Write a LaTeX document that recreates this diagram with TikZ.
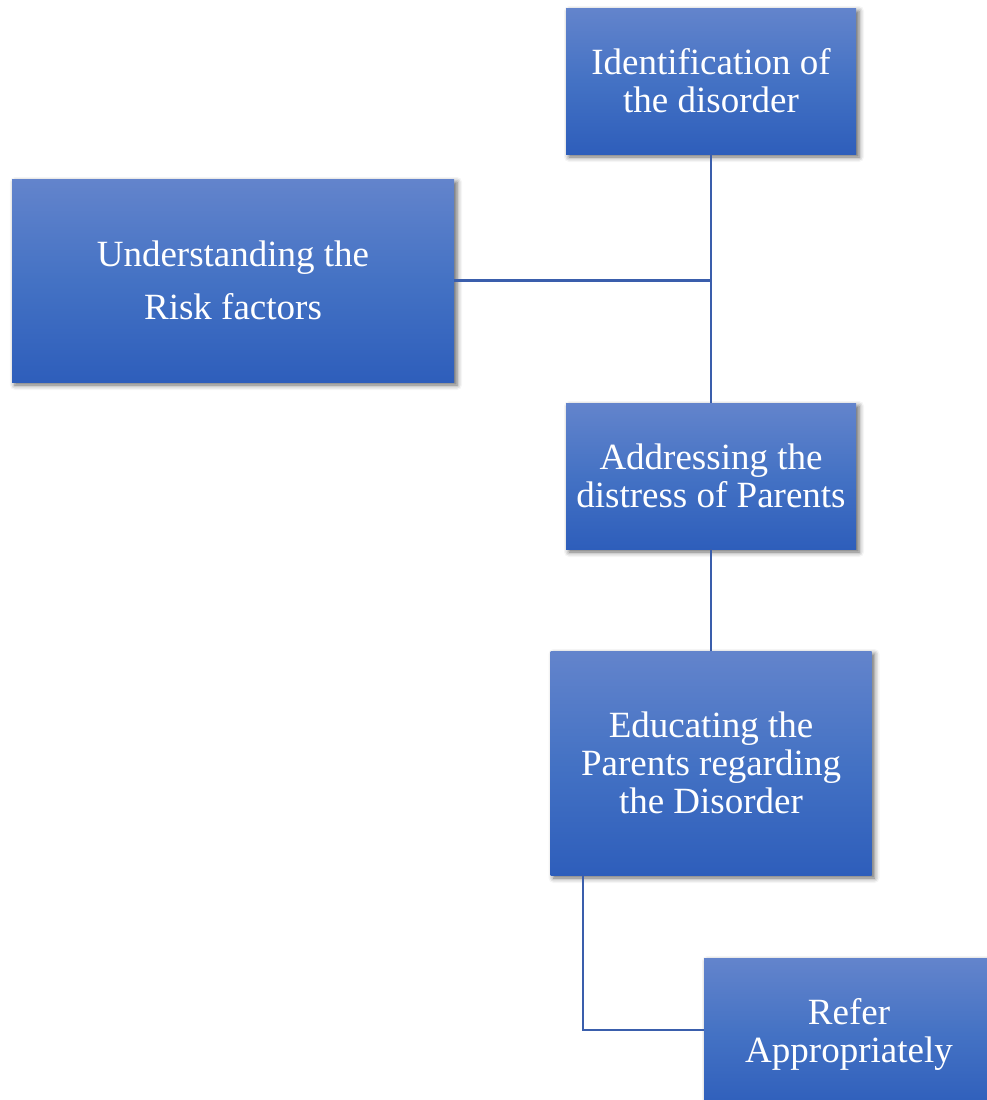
\documentclass[tikz,border=0pt]{standalone}
\usepackage{fontspec}
\setmainfont{Liberation Serif}
\usetikzlibrary{shadows.blur}
\definecolor{boxtop}{RGB}{99,132,204}
\definecolor{boxmid}{RGB}{68,114,196}
\definecolor{boxbot}{RGB}{46,94,187}
\definecolor{linkcol}{RGB}{58,94,172}
\tikzset{
  box/.style={rectangle, inner sep=0pt, text=white, align=center,
    top color=boxtop, bottom color=boxbot, middle color=boxmid,
    blur shadow={shadow xshift=3pt, shadow yshift=-3pt, shadow blur radius=5pt, shadow opacity=60},
    font=\fontsize{37}{38}\selectfont},
  link/.style={draw=linkcol, line width=2.4pt}
}
\begin{document}
\begin{tikzpicture}[x=1pt, y=-1pt]
\useasboundingbox (0,0) rectangle (987,1100);
\clip (0,0) rectangle (987,1100);
\node[box, minimum width=290pt, minimum height=146pt] (ident) at (711,81)
  {Identification of\\the disorder};
\node[box, minimum width=442pt, minimum height=203pt,
  font=\fontsize{37}{53}\selectfont] (risk) at (233,280.5)
  {Understanding the\\Risk factors};
\node[box, minimum width=290pt, minimum height=146pt] (distress) at (711,476)
  {Addressing the\\distress of Parents};
\node[box, minimum width=321pt, minimum height=224pt] (educ) at (711,763)
  {Educating the\\Parents regarding\\the Disorder};
\node[box, minimum width=290pt, minimum height=152pt] (refer) at (849,1034)
  {Refer\\Appropriately};
% connectors
\coordinate (join) at (ident.south |- risk.east);
\draw[link] (ident.south) -- (distress.north);
\draw[link] (risk.east) -- (join);
\draw[link] (distress.south) -- (educ.north);
\coordinate (drop) at (583,0);
\coordinate (elbow) at (583,1030);
\draw[link] (drop |- educ.south) -- (elbow) -- (elbow -| refer.west);
\end{tikzpicture}
\end{document}
